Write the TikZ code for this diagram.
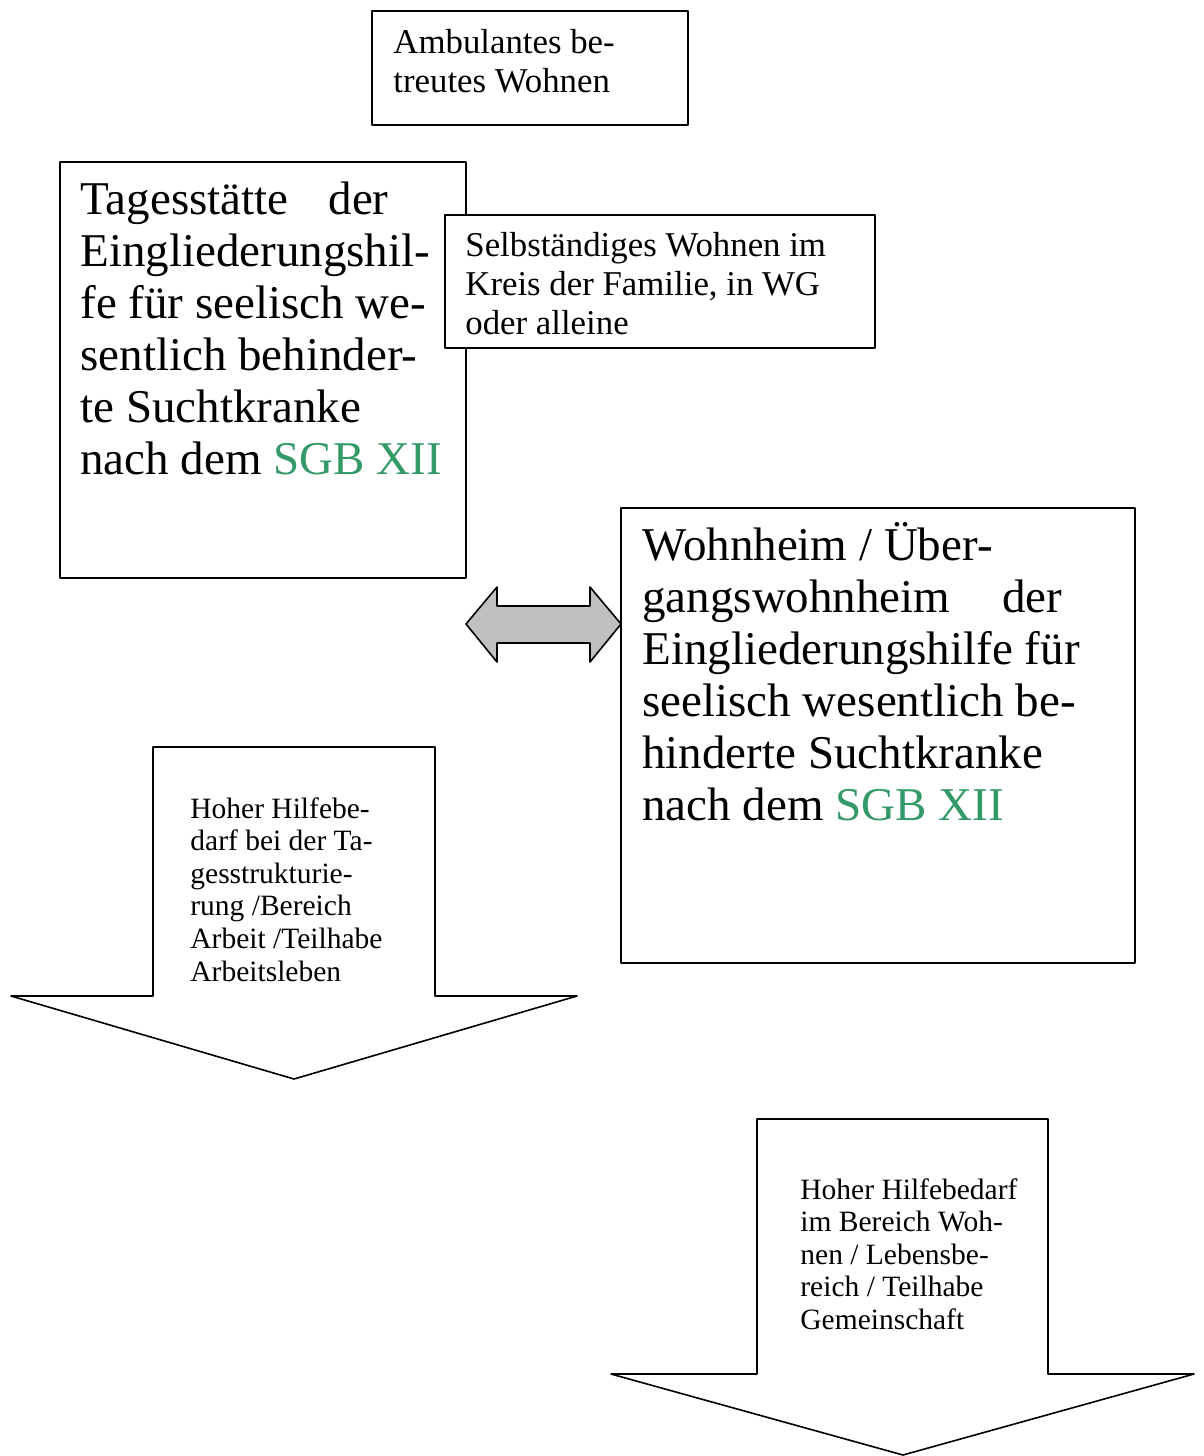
\documentclass[tikz,border=0pt]{standalone}
\usepackage{fontspec}
\setmainfont{Liberation Serif}
\usetikzlibrary{positioning}
\definecolor{sgbgreen}{RGB}{51,153,102}
\definecolor{arrowgray}{RGB}{192,192,192}
\newcommand\hugetxt{\fontsize{23.5}{26}\selectfont}
\newcommand\midtxt{\fontsize{17.4}{19.5}\selectfont}
\newcommand\lowtxt{\fontsize{14.75}{16.3}\selectfont}

\begin{document}
\begin{tikzpicture}[x=0.5pt, y=-0.5pt,
	box/.style={draw, line width=0.8pt, fill=white, line join=round},
	txt/.style={anchor=north west, inner sep=0pt, align=left}]
	\useasboundingbox (0,0) rectangle (1204,1456);

	% Boxes at the top
	\draw[box] (372, 11) rectangle (688, 125);
	\node[txt, font=\midtxt] (ambulant) at (393, 29) {Ambulantes be-\\treutes Wohnen};

	\draw[box] (60, 162) rectangle (466, 578);
	\node[txt, font=\hugetxt] (tagesstaette) at (80, 181) {Tagesstätte\hspace{20pt}der\\Eingliederungshil-\\fe für seelisch we-\\sentlich behinder-\\te Suchtkranke\\nach dem \textcolor{sgbgreen}{SGB XII}};

	\draw[box] (445, 215) rectangle (875, 348);
	\node[txt, font=\midtxt] (selbst) at (465, 232) {Selbständiges Wohnen im\\Kreis der Familie, in WG\\oder alleine};

	\draw[box] (621, 508) rectangle (1135, 963);
	\node[txt, font=\hugetxt] (wohnheim) at (642, 522) {Wohnheim / Über-\\gangswohnheim\hspace{26pt}der\\Eingliederungshilfe für\\seelisch wesentlich be-\\hinderte Suchtkranke\\nach dem \textcolor{sgbgreen}{SGB XII}};

	% Double arrow between the two big boxes
	\draw[box, fill=arrowgray] (466, 624) -- (497, 587) -- (497, 606) -- (590, 606) -- (590, 587)
		-- (621, 624) -- (590, 662) -- (590, 643) -- (497, 643) -- (497, 662) -- cycle;

	% Block arrows pointing down
	\draw[box] (153, 747) -- (435, 747) -- (435, 996) -- (577, 996) -- (294, 1079)
		-- (11, 996) -- (153, 996) -- cycle;
	\node[txt, font=\lowtxt] (tagesbedarf) at (190, 797) {Hoher Hilfebe-\\darf bei der Ta-\\gesstrukturie-\\rung /Bereich\\Arbeit /Teilhabe\\Arbeitsleben};

	\draw[box] (757, 1119) -- (1048, 1119) -- (1048, 1374) -- (1194, 1374) -- (903, 1455)
		-- (611, 1374) -- (757, 1374) -- cycle;
	\node[txt, font=\lowtxt] (wohnbedarf) at (800, 1178) {Hoher Hilfebedarf\\im Bereich Woh-\\nen / Lebensbe-\\reich / Teilhabe\\Gemeinschaft};
\end{tikzpicture}
\end{document}
